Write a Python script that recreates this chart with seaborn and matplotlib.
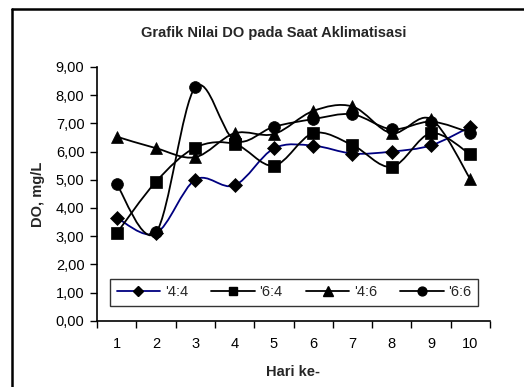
import matplotlib
matplotlib.use("Agg")
import matplotlib.pyplot as plt
from matplotlib.path import Path
from matplotlib.patches import PathPatch
from matplotlib.lines import Line2D
from matplotlib.ticker import FuncFormatter, FixedLocator
import numpy as np
import pandas as pd
import seaborn as sns

# Dissolved oxygen readings per acclimatisation day
days = [1, 2, 3, 4, 5, 6, 7, 8, 9, 10]
do_44 = [3.65, 3.10, 5.00, 4.80, 6.11, 6.21, 5.93, 6.00, 6.22, 6.88]
do_64 = [3.10, 4.93, 6.14, 6.27, 5.50, 6.65, 6.23, 5.46, 6.65, 5.90]
do_46 = [6.53, 6.12, 5.80, 6.65, 6.62, 7.44, 7.60, 6.65, 7.15, 5.02]
do_66 = [4.84, 3.13, 8.28, 6.40, 6.88, 7.15, 7.32, 6.79, 7.06, 6.67]
series_labels = ["'4:4", "'6:4", "'4:6", "'6:6"]

sns.set_theme(style="white")
plt.rcParams["font.family"] = ["Liberation Sans", "DejaVu Sans"]

W, H = 524, 387
fig = plt.figure(figsize=(W / 100, H / 100), dpi=100)

left, right, top, bottom = 97, 490, 67, 320.7
ax = fig.add_axes([left / W, 1 - bottom / H, (right - left) / W, (bottom - top) / H])

df = pd.DataFrame({"day": days, series_labels[0]: do_44, series_labels[1]: do_64,
                   series_labels[2]: do_46, series_labels[3]: do_66})
long = df.melt(id_vars="day", var_name="series", value_name="do")

styles = {
    "'4:4": dict(color="#000080", marker="D", ms=7),
    "'6:4": dict(color="black", marker="s", ms=8),
    "'4:6": dict(color="black", marker="^", ms=9),
    "'6:6": dict(color="black", marker="o", ms=8.5),
}


def smooth_path(xs, ys):
    """Cubic Bezier path through the points (Catmull-Rom style tangents)."""
    pts = np.column_stack([xs, ys]).astype(float)
    n = len(pts)
    verts = [pts[0]]
    codes = [Path.MOVETO]
    for i in range(n - 1):
        p0 = pts[i - 1] if i > 0 else pts[i]
        p1 = pts[i]
        p2 = pts[i + 1]
        p3 = pts[i + 2] if i + 2 < n else pts[i + 1]
        c1 = p1 + (p2 - p0) / 6.0
        c2 = p2 - (p3 - p1) / 6.0
        verts += [c1, c2, p2]
        codes += [Path.CURVE4] * 3
    return Path(verts, codes)


handles = []
for name in series_labels:
    st = styles[name]
    sub = long[long["series"] == name]
    ax.add_patch(PathPatch(smooth_path(sub["day"], sub["do"]), facecolor="none",
                           edgecolor=st["color"], lw=1.3, zorder=2))
    sns.lineplot(data=sub, x="day", y="do", ax=ax, linestyle="", marker=st["marker"],
                 markersize=st["ms"], color="black", markeredgecolor="black",
                 markeredgewidth=0.5, zorder=3, legend=False)
    handles.append(Line2D([0], [0], color=st["color"], lw=1.3, marker=st["marker"],
                          markersize=st["ms"] * 0.75, markerfacecolor="black",
                          markeredgecolor="black"))

ax.set_xlim(0.5, 10.5)
ax.set_ylim(0, 9)
ax.set_yticks(np.arange(0, 10, 1))
ax.yaxis.set_major_formatter(FuncFormatter(lambda v, p: f"{v:.2f}".replace(".", ",")))
ax.set_xticks(days)
ax.set_xticklabels([str(d) for d in days])
ax.xaxis.set_minor_locator(FixedLocator(np.arange(0.5, 11, 1)))
ax.tick_params(axis="x", which="major", length=0, pad=12, labelsize=10.5, colors="black")
ax.tick_params(axis="x", which="minor", length=5, width=1, direction="out",
               bottom=True, color="black")
ax.tick_params(axis="y", which="major", length=5, width=1, direction="out",
               left=True, labelsize=10.5, pad=4, colors="black")

for s in ["top", "right"]:
    ax.spines[s].set_visible(False)
for s in ["left", "bottom"]:
    ax.spines[s].set_color("black")
    ax.spines[s].set_linewidth(1.2)
ax.set_xlabel("")
ax.set_ylabel("")

fig.text(274 / W, 1 - 33 / H, "Grafik Nilai DO pada Saat Aklimatisasi", ha="center",
         va="center", fontsize=10.5, fontweight="bold")
fig.text(38 / W, 1 - 194 / H, "DO, mg/L", ha="center", va="center", rotation=90,
         fontsize=10.5, fontweight="bold")
fig.text(293 / W, 1 - 372 / H, "Hari ke-", ha="center", va="center",
         fontsize=10.5, fontweight="bold")

leg = fig.legend(handles, series_labels, ncol=4, loc="center",
                 bbox_to_anchor=(294 / W, 1 - 292.5 / H), frameon=True, fancybox=False,
                 edgecolor="black", fontsize=10.5, handlelength=3.0, columnspacing=1.6,
                 handletextpad=0.3, borderpad=0.45)
leg.get_frame().set_linewidth(1.0)

# Chart border (top and left edges)
fig.add_artist(Line2D([12 / W, 1.0], [1 - 9 / H, 1 - 9 / H], color="black", lw=1.8,
                      transform=fig.transFigure))
fig.add_artist(Line2D([12 / W, 12 / W], [1 - 9 / H, 0.0], color="black", lw=1.8,
                      transform=fig.transFigure))

fig.savefig("out.png", dpi=100)
